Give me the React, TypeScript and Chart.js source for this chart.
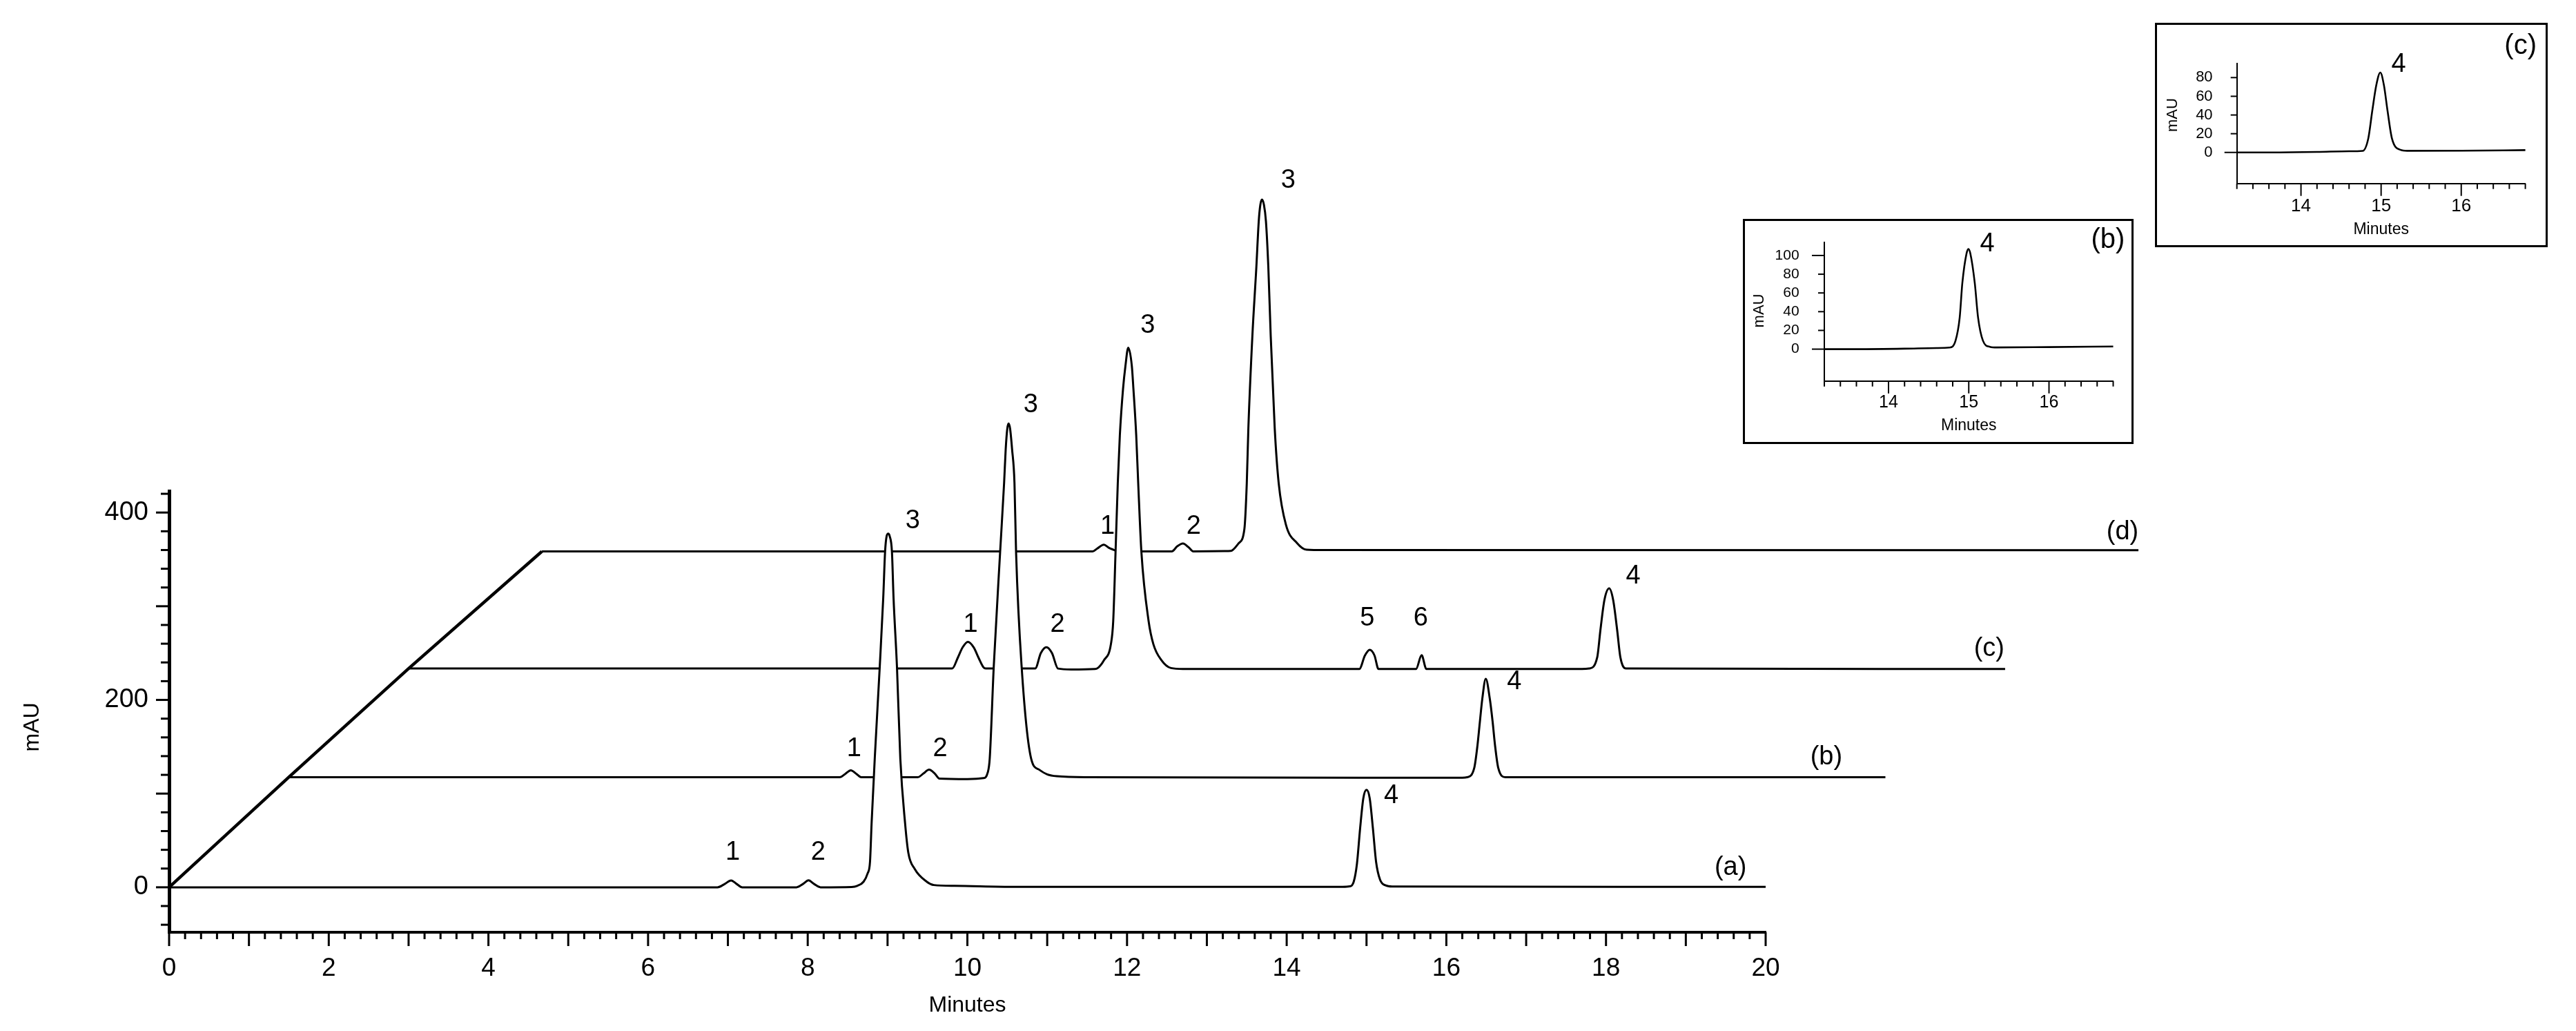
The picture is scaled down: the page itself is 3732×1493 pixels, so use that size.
import React, { useEffect, useRef } from 'react';
import { Chart, registerables } from 'chart.js';

Chart.register(...registerables);

const FONT = '"Liberation Sans", Arial, Helvetica, sans-serif';
const INK = '#000000';

// ---------------- main chart axes ----------------
const MAIN_X_MIN = 0;
const MAIN_X_MAX = 20;
const MAIN_Y_MIN = -48;
const MAIN_Y_MAX = 423;
const MAIN_X_TICK_LABELS = [0, 2, 4, 6, 8, 10, 12, 14, 16, 18, 20];
const MAIN_Y_TICK_LABELS = [0, 200, 400];

// ---------------- stacked chromatograms (a)-(d) ----------------
const TRACE_NAMES = ['(a)', '(b)', '(c)', '(d)'];
const TRACE_SHIFT_MIN = [0, 1.5, 3.0, 4.67];
const TRACE_BASELINE = [0, 117.5, 233.5, 358.5];

// (a) retention time (min) / signal (mAU above own baseline)
const traceATime = [0, 6.87, 6.96, 7.04, 7.11, 7.18, 7.86, 7.94, 8.01, 8.08, 8.16, 8.55, 8.62, 8.70, 8.75, 8.78, 8.80, 8.84, 8.902, 8.946, 8.969, 8.989, 9.009, 9.026, 9.055, 9.075, 9.118, 9.16, 9.22, 9.26, 9.34, 9.49, 9.58, 9.84, 10.6, 14.70, 14.79, 14.84, 14.88, 14.92, 14.96, 15.00, 15.04, 15.08, 15.12, 15.17, 15.24, 15.32, 20];
const traceASignal = [0, 0, 3.5, 7.3, 3.5, 0, 0, 3.5, 7.4, 3.5, 0, 0.3, 1.5, 6, 14.7, 27, 68, 138, 235, 309, 358, 375, 377.5, 375, 358, 309, 235, 137, 68, 37, 19.6, 6, 2.4, 1.6, 0.5, 0.5, 1, 6, 25, 63, 95, 104, 95, 63, 27, 8, 2, 0.8, 0.5];

// (b)
const traceBTime = [0, 6.9, 6.97, 7.04, 7.11, 7.17, 7.88, 7.95, 8.02, 8.09, 8.15, 8.5, 8.70, 8.755, 8.78, 8.83, 8.91, 8.96, 8.98, 9.0, 9.016, 9.035, 9.06, 9.09, 9.11, 9.18, 9.30, 9.40, 9.50, 9.62, 10.0, 14.70, 14.76, 14.85, 14.89, 14.92, 14.95, 14.994, 15.045, 15.08, 15.11, 15.15, 15.24, 20];
const traceBSignal = [0, 0, 3.5, 7.4, 3.5, 0, 0, 4, 8, 4, -1.5, -2, -1, 5, 20, 117.5, 240, 314, 350, 372, 377.5, 372, 350, 314, 240, 117.5, 19.5, 8, 3, 1, 0, -0.5, 0, 10, 34, 59, 83.4, 105, 83.4, 59, 34, 10, 0, 0];

// (c)
const traceCTime = [0, 6.81, 6.88, 6.94, 7.006, 7.08, 7.14, 7.20, 7.23, 7.85, 7.92, 7.99, 8.06, 8.135, 8.3, 8.6, 8.63, 8.71, 8.798, 8.827, 8.856, 8.884, 8.91, 8.95, 8.98, 9.015, 9.06, 9.08, 9.115, 9.14, 9.18, 9.27, 9.33, 9.43, 9.55, 9.7, 11.91, 11.98, 12.04, 12.10, 12.15, 12.62, 12.69, 12.75, 14.70, 14.79, 14.89, 14.93, 14.98, 15.04, 15.09, 15.14, 15.18, 15.25, 20];
const traceCSignal = [0, 0, 11.5, 22.5, 28.5, 22.5, 11.5, 1.5, 0, 0, 16.5, 22.8, 16.5, 0, -1, -0.5, 0.3, 8.8, 26, 50.8, 124, 197.5, 249, 298.5, 323, 342.5, 323, 298.5, 249, 197.8, 124.3, 50.8, 26, 9, 0.5, -0.5, -0.5, 13.9, 20, 13.9, -0.5, -0.5, 14.2, -0.5, -0.5, 0, 12, 41, 73, 85.5, 73, 41, 12, 0, -0.5];

// (d)
const traceDTime = [0, 6.90, 6.955, 7.04, 7.10, 7.16, 7.22, 7.89, 7.96, 8.03, 8.10, 8.16, 8.55, 8.63, 8.73, 8.80, 8.83, 8.85, 8.90, 8.95, 8.98, 9.0, 9.02, 9.045, 9.07, 9.10, 9.13, 9.18, 9.23, 9.32, 9.46, 9.58, 9.8, 20];
const traceDSignal = [0, 0, 3, 7.2, 4, 1.8, 0, 0, 5.5, 8.5, 4.5, 0, 0.3, 0.5, 8.9, 23.8, 72.7, 131.5, 229.8, 303.5, 352.5, 370, 375.5, 370, 352.5, 303.5, 229.8, 131.5, 72.7, 28.7, 8.9, 1.8, 1.4, 1.3];

const TRACE_TIMES = [traceATime, traceBTime, traceCTime, traceDTime];
const TRACE_SIGNALS = [traceASignal, traceBSignal, traceCSignal, traceDSignal];

// peak numbers (plotted position in main chart coordinates: minutes, mAU)
const PEAK_LABEL_TEXT = ['1', '2', '3', '4', '1', '2', '3', '4', '1', '2', '3', '5', '6', '4', '1', '2', '3'];
const PEAK_LABEL_X = [7.06, 8.13, 9.315, 15.31, 8.58, 9.66, 10.795, 16.85, 10.04, 11.13, 12.26, 15.01, 15.68, 18.34, 11.755, 12.835, 14.02];
const PEAK_LABEL_Y = [36.8, 36.8, 391, 97.9, 147.4, 147.4, 515, 219.5, 280.6, 280.6, 599.4, 286.7, 286.7, 332, 384.8, 384.8, 754];

// trace names (a)-(d): x position in minutes, height above own baseline
const TRACE_NAME_X = [19.56, 20.76, 22.8, 24.47];
const TRACE_NAME_RISE = 21;

// ---------------- inset (b) ----------------
const INSET_X_MIN = 13.2;
const INSET_X_MAX = 16.8;
const INSET_X_TICK_LABELS = [14, 15, 16];
const INSET_B_Y_MIN = -34;
const INSET_B_Y_MAX = 114.2;
const INSET_B_Y_TICK_LABELS = [0, 20, 40, 60, 80, 100];
const insetBTime = [13.2, 13.6, 14.2, 14.6, 14.76, 14.835, 14.887, 14.92, 14.972, 14.996, 15.02, 15.075, 15.116, 15.177, 15.263, 15.349, 16.0, 16.8];
const insetBSignal = [0, 0, 0.5, 1.2, 1.7, 9, 33.7, 70.5, 102, 107, 102, 70.5, 33.7, 9, 2.5, 1.8, 2.2, 2.8];

// ---------------- inset (c) ----------------
const INSET_C_Y_MIN = -33.2;
const INSET_C_Y_MAX = 94.8;
const INSET_C_Y_TICK_LABELS = [0, 20, 40, 60, 80];
const insetCTime = [13.2, 13.6, 14.2, 14.6, 14.77, 14.84, 14.89, 14.94, 14.99, 15.035, 15.08, 15.135, 15.24, 15.325, 16.0, 16.8];
const insetCSignal = [0, 0, 0.5, 1.3, 1.7, 15, 44.6, 71.9, 85.4, 71.9, 44.6, 15, 2.8, 1.7, 1.8, 2.5];

type Pt = { x: number; y: number };
type TextItem = { text: string; x: number; y: number; size: number };
type TickSet = { from: number; to: number; step: number; majorEvery: number; minorLen: number; majorLen: number };
type YTitle = { text: string; px: number; value: number; size: number };

function traceSeries(idx: number): Pt[] {
  const t = TRACE_TIMES[idx];
  const s = TRACE_SIGNALS[idx];
  return t.map((v, k) => ({ x: v + TRACE_SHIFT_MIN[idx], y: s[k] + TRACE_BASELINE[idx] }));
}

function plainSeries(t: number[], s: number[]): Pt[] {
  return t.map((v, k) => ({ x: v, y: s[k] }));
}

function zeroPadding(s: any) {
  s.paddingTop = 0;
  s.paddingBottom = 0;
  s.paddingLeft = 0;
  s.paddingRight = 0;
}

function makeTickPlugin(xSet: TickSet, ySet: TickSet, width: number) {
  return {
    id: 'tickMarks',
    afterDatasetsDraw(chart: any) {
      const { ctx, chartArea } = chart;
      const xs = chart.scales.x;
      const ys = chart.scales.y;
      ctx.save();
      ctx.strokeStyle = INK;
      ctx.lineWidth = width;
      ctx.lineCap = 'butt';
      const run = (cfg: TickSet, horizontal: boolean) => {
        const n = Math.round((cfg.to - cfg.from) / cfg.step);
        for (let i = 0; i <= n; i++) {
          const v = cfg.from + i * cfg.step;
          const r = v / cfg.majorEvery;
          const major = Math.abs(r - Math.round(r)) < 1e-6;
          const len = major ? cfg.majorLen : cfg.minorLen;
          ctx.beginPath();
          if (horizontal) {
            const p = xs.getPixelForValue(v);
            ctx.moveTo(p, chartArea.bottom);
            ctx.lineTo(p, chartArea.bottom + len);
          } else {
            const p = ys.getPixelForValue(v);
            ctx.moveTo(chartArea.left, p);
            ctx.lineTo(chartArea.left - len, p);
          }
          ctx.stroke();
        }
      };
      run(xSet, true);
      run(ySet, false);
      ctx.restore();
    },
  };
}

function makeTextPlugin(items: TextItem[], yTitle: YTitle) {
  return {
    id: 'peakText',
    afterDatasetsDraw(chart: any) {
      const { ctx } = chart;
      const xs = chart.scales.x;
      const ys = chart.scales.y;
      ctx.save();
      ctx.fillStyle = INK;
      ctx.textAlign = 'center';
      ctx.textBaseline = 'middle';
      for (const it of items) {
        ctx.font = `${it.size}px ${FONT}`;
        ctx.fillText(it.text, xs.getPixelForValue(it.x), ys.getPixelForValue(it.y));
      }
      // rotated y-axis title
      ctx.translate(yTitle.px, ys.getPixelForValue(yTitle.value));
      ctx.rotate(-Math.PI / 2);
      ctx.font = `${yTitle.size}px ${FONT}`;
      ctx.fillText(yTitle.text, 0, 0);
      ctx.restore();
    },
  };
}

function mainConfig(): any {
  const diag: Pt[] = TRACE_SHIFT_MIN.map((s, i) => ({ x: s, y: TRACE_BASELINE[i] }));
  const traceSets = [0, 1, 2, 3].map((i) => ({
    label: TRACE_NAMES[i],
    data: traceSeries(i),
    borderColor: INK,
    borderWidth: 3,
    pointRadius: 0,
    fill: 'origin',
    backgroundColor: '#ffffff',
    cubicInterpolationMode: 'monotone',
    clip: false,
  }));
  const texts: TextItem[] = PEAK_LABEL_TEXT.map((t, i) => ({ text: t, x: PEAK_LABEL_X[i], y: PEAK_LABEL_Y[i], size: 38 }));
  TRACE_NAMES.forEach((n, i) => texts.push({ text: n, x: TRACE_NAME_X[i], y: TRACE_BASELINE[i] + TRACE_NAME_RISE, size: 38 }));
  return {
    type: 'line',
    data: {
      datasets: [
        { label: 'offset', data: diag, borderColor: INK, borderWidth: 4.5, pointRadius: 0, fill: false, tension: 0, clip: false },
        ...traceSets,
      ],
    },
    options: {
      responsive: false,
      animation: false,
      devicePixelRatio: 1,
      events: [],
      layout: { padding: { left: 0, top: 711, right: 3732 - 2558, bottom: 0 } },
      plugins: { legend: { display: false }, tooltip: { enabled: false }, title: { display: false } },
      scales: {
        x: {
          type: 'linear',
          position: 'bottom',
          bounds: 'data',
          afterDataLimits: (s: any) => { s.min = MAIN_X_MIN; s.max = MAIN_X_MAX; },
          afterBuildTicks: (s: any) => { s.ticks = MAIN_X_TICK_LABELS.map((v) => ({ value: v })); },
          afterFit: (s: any) => { s.height = 143; zeroPadding(s); },
          grid: { display: false, drawTicks: false },
          border: { display: true, color: INK, width: 4 },
          ticks: { color: INK, font: { family: FONT, size: 37 }, padding: 31, autoSkip: false, maxRotation: 0, minRotation: 0, callback: (v: any) => String(v) },
          title: { display: true, text: 'Minutes', color: INK, font: { family: FONT, size: 32 }, padding: { top: 0, bottom: 17.5 } },
        },
        y: {
          type: 'linear',
          position: 'left',
          min: MAIN_Y_MIN,
          max: MAIN_Y_MAX,
          bounds: 'data',
          afterBuildTicks: (s: any) => { s.ticks = MAIN_Y_TICK_LABELS.map((v) => ({ value: v })); },
          afterFit: (s: any) => { s.width = 245; zeroPadding(s); },
          grid: { display: false, drawTicks: false },
          border: { display: true, color: INK, width: 5 },
          ticks: { color: INK, font: { family: FONT, size: 38 }, padding: 30, autoSkip: false, callback: (v: any) => String(v) },
          title: { display: false },
        },
      },
    },
    plugins: [
      makeTickPlugin(
        { from: 0, to: 20, step: 0.2, majorEvery: 1, minorLen: 10, majorLen: 20 },
        { from: -40, to: 420, step: 20, majorEvery: 100, minorLen: 12, majorLen: 19 },
        3
      ),
      makeTextPlugin(texts, { text: 'mAU', px: 47, value: 171, size: 32 }),
    ],
  };
}

type InsetSpec = {
  data: Pt[];
  yMin: number;
  yMax: number;
  yTicks: number[];
  yTickTop: number;
  pad: { top: number; right: number };
  yWidth: number;
  xHeight: number;
  xTickFont: number;
  yTickFont: number;
  xTickPad: number;
  yTickPad: number;
  xTitlePad: number;
  yTitle: YTitle;
  texts: TextItem[];
};

function insetConfig(sp: InsetSpec): any {
  return {
    type: 'line',
    data: {
      datasets: [
        { data: sp.data, borderColor: INK, borderWidth: 2.6, pointRadius: 0, fill: false, cubicInterpolationMode: 'monotone', clip: false },
      ],
    },
    options: {
      responsive: false,
      animation: false,
      devicePixelRatio: 1,
      events: [],
      layout: { padding: { left: 0, top: sp.pad.top, right: sp.pad.right, bottom: 0 } },
      plugins: { legend: { display: false }, tooltip: { enabled: false } },
      scales: {
        x: {
          type: 'linear',
          min: INSET_X_MIN,
          max: INSET_X_MAX,
          bounds: 'data',
          afterBuildTicks: (s: any) => { s.ticks = INSET_X_TICK_LABELS.map((v) => ({ value: v })); },
          afterFit: (s: any) => { s.height = sp.xHeight; zeroPadding(s); },
          grid: { display: false, drawTicks: false },
          border: { display: true, color: INK, width: 2 },
          ticks: { color: INK, font: { family: FONT, size: sp.xTickFont }, padding: sp.xTickPad, autoSkip: false, maxRotation: 0, minRotation: 0, callback: (v: any) => String(v) },
          title: { display: true, text: 'Minutes', color: INK, font: { family: FONT, size: 23 }, padding: { top: 0, bottom: sp.xTitlePad } },
        },
        y: {
          type: 'linear',
          min: sp.yMin,
          max: sp.yMax,
          bounds: 'data',
          afterBuildTicks: (s: any) => { s.ticks = sp.yTicks.map((v) => ({ value: v })); },
          afterFit: (s: any) => { s.width = sp.yWidth; zeroPadding(s); },
          grid: { display: false, drawTicks: false },
          border: { display: true, color: INK, width: 2 },
          ticks: { color: INK, font: { family: FONT, size: sp.yTickFont }, padding: sp.yTickPad, autoSkip: false, callback: (v: any) => String(v) },
          title: { display: false },
        },
      },
    },
    plugins: [
      makeTickPlugin(
        { from: INSET_X_MIN, to: INSET_X_MAX, step: 0.2, majorEvery: 1, minorLen: 8, majorLen: 18 },
        { from: 0, to: sp.yTickTop, step: 20, majorEvery: 100, minorLen: 9, majorLen: 18 },
        2
      ),
      makeTextPlugin(sp.texts, sp.yTitle),
    ],
  };
}

export default function App() {
  const mainRef = useRef<HTMLCanvasElement>(null);
  const bRef = useRef<HTMLCanvasElement>(null);
  const cRef = useRef<HTMLCanvasElement>(null);

  useEffect(() => {
    const charts: Chart[] = [];
    if (mainRef.current) charts.push(new Chart(mainRef.current, mainConfig()));
    if (bRef.current) {
      charts.push(
        new Chart(
          bRef.current,
          insetConfig({
            data: plainSeries(insetBTime, insetBSignal),
            yMin: INSET_B_Y_MIN,
            yMax: INSET_B_Y_MAX,
            yTicks: INSET_B_Y_TICK_LABELS,
            yTickTop: 100,
            pad: { top: 30.7, right: 26.5 },
            yWidth: 115,
            xHeight: 88.3,
            xTickFont: 25,
            yTickFont: 21,
            xTickPad: 16.6,
            yTickPad: 36.4,
            xTitlePad: 9.5,
            yTitle: { text: 'mAU', px: 21.4, value: 41, size: 22 },
            texts: [
              { text: '4', x: 15.23, y: 111.8, size: 38 },
              { text: '(b)', x: 16.735, y: 116, size: 40 },
            ],
          })
        )
      );
    }
    if (cRef.current) {
      charts.push(
        new Chart(
          cRef.current,
          insetConfig({
            data: plainSeries(insetCTime, insetCSignal),
            yMin: INSET_C_Y_MIN,
            yMax: INSET_C_Y_MAX,
            yTicks: INSET_C_Y_TICK_LABELS,
            yTickTop: 80,
            pad: { top: 56.3, right: 29.4 },
            yWidth: 115.7,
            xHeight: 89.3,
            xTickFont: 26,
            yTickFont: 22,
            xTickPad: 17.7,
            yTickPad: 35.1,
            xTitlePad: 8.9,
            yTitle: { text: 'mAU', px: 22.6, value: 39.9, size: 22 },
            texts: [
              { text: '4', x: 15.22, y: 94, size: 38 },
              { text: '(c)', x: 16.74, y: 113.7, size: 40 },
            ],
          })
        )
      );
    }
    return () => charts.forEach((c) => c.destroy());
  }, []);

  return (
    <div style={{ position: 'absolute', left: 0, top: 0, width: 3732, height: 1493, background: '#ffffff', overflow: 'hidden' }}>
      <canvas ref={mainRef} width={3732} height={1493} style={{ position: 'absolute', left: 0, top: 0 }} />
      <div style={{ position: 'absolute', left: 2525, top: 317, width: 566, height: 326, border: '3px solid #000', boxSizing: 'border-box', background: '#ffffff' }}>
        <canvas ref={bRef} width={560} height={320} style={{ position: 'absolute', left: 0, top: 0 }} />
      </div>
      <div style={{ position: 'absolute', left: 3122, top: 33, width: 569, height: 325, border: '3px solid #000', boxSizing: 'border-box', background: '#ffffff' }}>
        <canvas ref={cRef} width={563} height={319} style={{ position: 'absolute', left: 0, top: 0 }} />
      </div>
    </div>
  );
}
